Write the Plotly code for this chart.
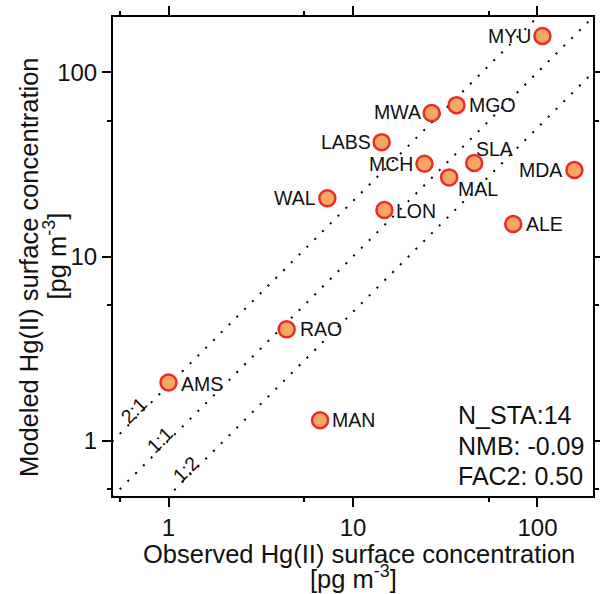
import plotly.graph_objects as go
import numpy as np

# ---- data ----
stations = ["MYU", "MWA", "MGO", "LABS", "MCH", "SLA", "MAL", "MDA",
            "LON", "ALE", "WAL", "RAO", "AMS", "MAN"]
observed = [106.4, 26.7, 36.4, 14.3, 24.4, 45.4, 33.2, 158.6,
            14.8, 73.9, 7.26, 4.37, 1.0, 6.63]
modeled = [157.8, 60.1, 66.4, 41.8, 31.9, 32.2, 26.9, 29.5,
           17.9, 15.0, 20.7, 4.02, 2.07, 1.29]

ratio_lines = [2.0, 1.0, 0.5]
ratio_labels = ["2:1", "1:1", "1:2"]
ratio_label_x = [0.69, 0.95, 1.32]

stats_text = ["N_STA:14", "NMB: -0.09", "FAC2: 0.50"]

axis_min, axis_max = 0.5, 200.0
major_ticks = [1, 10, 100]
major_labels = ["1", "10", "100"]
minor_ticks = [0.545, 5.45, 54.5]

# label placement (anchor side, xshift, yshift) per station
label_place = {
    "MYU": ("right", -9, 0), "MWA": ("right", -9, 1.5), "MGO": ("left", 10, 0),
    "LABS": ("right", -9, 0), "MCH": ("right", -9, 0), "SLA": ("left", 0, 14),
    "MAL": ("left", 7, -12), "MDA": ("right", -10, 0), "LON": ("left", 10, -1.5),
    "ALE": ("left", 11, 0), "WAL": ("right", -9, 0), "RAO": ("left", 11, 0),
    "AMS": ("left", 10, -2), "MAN": ("left", 10, 0),
}

FONT = "Liberation Sans, Arial, Helvetica, sans-serif"
TXT = "#111111"

fig = go.Figure()

# reference ratio lines
for r in ratio_lines:
    xs = np.array([axis_min / 2, axis_max * 2])
    fig.add_trace(go.Scatter(
        x=xs, y=r * xs, mode="lines",
        line=dict(color="black", width=2, dash="2px,9px"),
        hoverinfo="skip", showlegend=False))

# station points
fig.add_trace(go.Scatter(
    x=observed, y=modeled, mode="markers",
    marker=dict(size=16, color="#F6A862",
                line=dict(color="#EC2A26", width=2.5)),
    showlegend=False, cliponaxis=False))

annotations = []
for s, xo, ym in zip(stations, observed, modeled):
    side, dx, dy = label_place[s]
    annotations.append(dict(
        x=np.log10(xo), y=np.log10(ym), xref="x", yref="y",
        text=s, showarrow=False, xanchor=side, yanchor="middle",
        xshift=dx, yshift=dy,
        font=dict(family=FONT, size=19.5, color=TXT)))

for r, lab, lx in zip(ratio_lines, ratio_labels, ratio_label_x):
    annotations.append(dict(
        x=np.log10(lx), y=np.log10(r * lx), xref="x", yref="y",
        text=lab, showarrow=False, textangle=-45,
        xanchor="center", yanchor="middle", xshift=-5, yshift=5,
        font=dict(family=FONT, size=19.5, color=TXT)))

stat_y = [0.17, 0.1053, 0.0413]
for t, yy in zip(stats_text, stat_y):
    annotations.append(dict(
        x=0.714, y=yy, xref="paper", yref="paper", text=t,
        showarrow=False, xanchor="left", yanchor="middle",
        font=dict(family=FONT, size=25, color=TXT)))

# axis titles (two lines each)
annotations += [
    dict(x=0.5125, y=0, xref="paper", yref="paper", yshift=-57.5,
         text="Observed Hg(II) surface concentration", showarrow=False,
         xanchor="center", yanchor="middle", borderpad=0,
         font=dict(family=FONT, size=25.5, color=TXT)),
    dict(x=0.502, y=0, xref="paper", yref="paper", yshift=-81,
         text="[pg m<sup>-3</sup>]", showarrow=False,
         xanchor="center", yanchor="middle", borderpad=0,
         font=dict(family=FONT, size=25.5, color=TXT)),
    dict(x=0, y=0.478, xref="paper", yref="paper", xshift=-84,
         text="Modeled Hg(II) surface concentration", showarrow=False,
         textangle=-90, xanchor="center", yanchor="middle", borderpad=0,
         font=dict(family=FONT, size=25.5, color=TXT)),
    dict(x=0, y=0.5, xref="paper", yref="paper", xshift=-58,
         text="[pg m<sup>-3</sup>]", showarrow=False,
         textangle=-90, xanchor="center", yanchor="middle", borderpad=0,
         font=dict(family=FONT, size=25.5, color=TXT)),
]

axis_common = dict(
    type="log", range=[np.log10(axis_min), np.log10(axis_max)],
    tickvals=major_ticks, ticktext=major_labels,
    ticks="outside", ticklen=9, tickwidth=2, tickcolor="black",
    showline=True, linewidth=2, linecolor="black", mirror="allticks",
    showgrid=False, zeroline=False, automargin=False,
    tickfont=dict(family=FONT, size=24, color=TXT),
    minor=dict(tickvals=minor_ticks, ticks="outside", ticklen=4,
               tickwidth=2, tickcolor="black", showgrid=False),
)

fig.update_layout(
    width=600, height=594,
    margin=dict(l=113, r=7, t=17, b=97.5, autoexpand=False),
    paper_bgcolor="white", plot_bgcolor="white",
    xaxis=axis_common, yaxis=axis_common,
    annotations=annotations,
    showlegend=False,
)

fig.write_html("out.html")
